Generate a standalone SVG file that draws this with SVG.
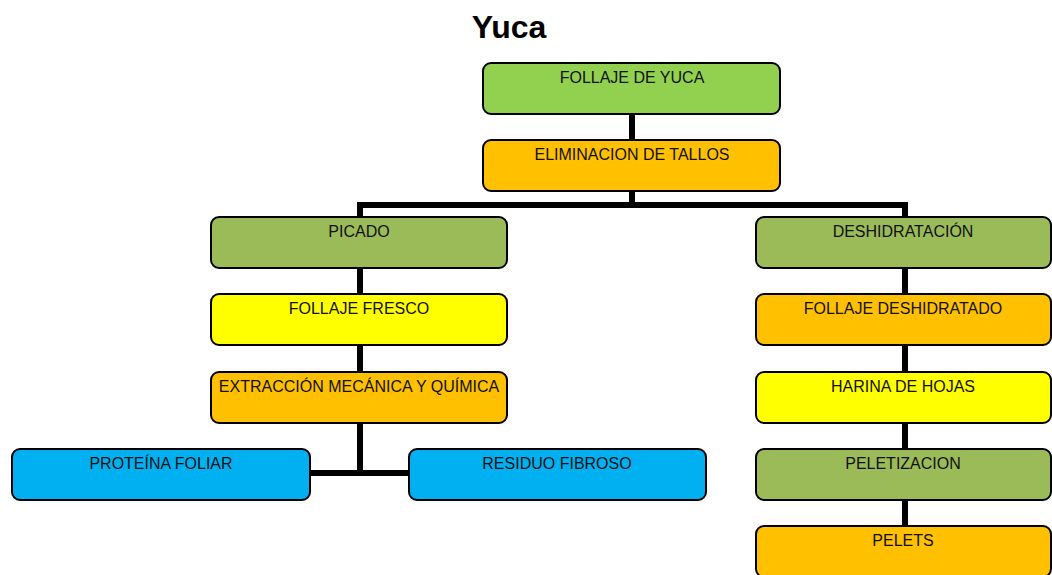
<svg xmlns="http://www.w3.org/2000/svg" width="1052" height="575" viewBox="0 0 1052 575">
<style>
.box{stroke:#000;stroke-width:2}
.lbl{font-family:"Liberation Sans",Arial,sans-serif;font-size:16px;fill:#111;text-anchor:middle}
.c{stroke:#000;stroke-width:6;fill:none}
.g1{fill:#92D050}.or{fill:#FFC000}.g2{fill:#9BBB59}.ye{fill:#FFFF00}.bl{fill:#00B0F0}
</style>
<rect width="1052" height="575" fill="#fff"/>
<text x="509" y="38" font-family="Liberation Sans,Arial,sans-serif" font-size="32" font-weight="bold" text-anchor="middle">Yuca</text>
<g id="connectors">
<line class="c" x1="632" y1="114" x2="632" y2="141"/>
<path class="c" d="M632 191 V205 M360 205 H905 M360 202 V218 M905 202 V218"/>
<line class="c" x1="360" y1="268" x2="360" y2="295"/>
<line class="c" x1="360" y1="345" x2="360" y2="373"/>
<path class="c" d="M360 422 V473 M309 473 H410"/>
<line class="c" x1="905" y1="268" x2="905" y2="295"/>
<line class="c" x1="905" y1="345" x2="905" y2="373"/>
<line class="c" x1="905" y1="423" x2="905" y2="450"/>
<line class="c" x1="905" y1="499" x2="905" y2="527"/>
</g>
<g id="n1"><rect class="box g1" x="483" y="63" width="297" height="51" rx="8"/><text class="lbl" x="632" y="83">FOLLAJE DE YUCA</text></g>
<g id="n2"><rect class="box or" x="483" y="140" width="297" height="51" rx="8"/><text class="lbl" x="632" y="160">ELIMINACION DE TALLOS</text></g>
<g id="n3"><rect class="box g2" x="211" y="217" width="296" height="51" rx="8"/><text class="lbl" x="359" y="237">PICADO</text></g>
<g id="n4"><rect class="box ye" x="211" y="294" width="296" height="51" rx="8"/><text class="lbl" x="359" y="314">FOLLAJE FRESCO</text></g>
<g id="n5"><rect class="box or" x="211" y="372" width="296" height="51" rx="8"/><text class="lbl" x="359" y="392">EXTRACCIÓN MECÁNICA Y QUÍMICA</text></g>
<g id="n6"><rect class="box bl" x="12" y="449" width="298" height="51" rx="8"/><text class="lbl" x="161" y="469">PROTEÍNA FOLIAR</text></g>
<g id="n7"><rect class="box bl" x="409" y="449" width="297" height="51" rx="8"/><text class="lbl" x="557" y="469">RESIDUO FIBROSO</text></g>
<g id="n8"><rect class="box g2" x="756" y="217" width="295" height="51" rx="8"/><text class="lbl" x="903" y="237">DESHIDRATACIÓN</text></g>
<g id="n9"><rect class="box or" x="756" y="294" width="295" height="51" rx="8"/><text class="lbl" x="903" y="314">FOLLAJE DESHIDRATADO</text></g>
<g id="n10"><rect class="box ye" x="756" y="372" width="295" height="51" rx="8"/><text class="lbl" x="903" y="392">HARINA DE HOJAS</text></g>
<g id="n11"><rect class="box g2" x="756" y="449" width="295" height="51" rx="8"/><text class="lbl" x="903" y="469">PELETIZACION</text></g>
<g id="n12"><rect class="box or" x="756" y="526" width="295" height="51" rx="8"/><text class="lbl" x="903" y="546">PELETS</text></g>
</svg>
